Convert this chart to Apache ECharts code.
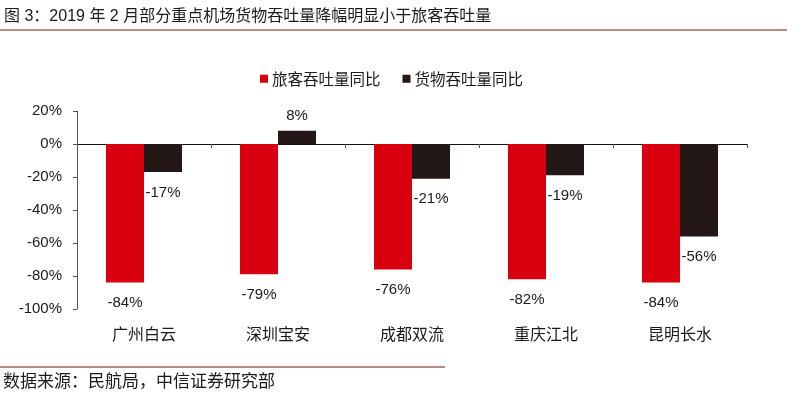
<!DOCTYPE html>
<html>
<head>
<meta charset="utf-8">
<script src="https://cdn.jsdelivr.net/npm/echarts@6/dist/echarts.min.js"></script>
<style>html,body{margin:0;padding:0;background:#fff;}#c{width:804px;height:394px;}</style>
</head>
<body>
<div id="c"></div>
<script>
const categories = ['广州白云', '深圳宝安', '成都双流', '重庆江北', '昆明长水'];
const passengerYoY = [-84, -79, -76, -82, -84];
const cargoYoY = [-17, 8, -21, -19, -56];
const seriesNames = ['旅客吞吐量同比', '货物吞吐量同比'];
const titleText = '图 3：2019 年 2 月部分重点机场货物吞吐量降幅明显小于旅客吞吐量';
const sourceText = '数据来源：民航局，中信证券研究部';

const FONT = '"Liberation Sans", Arial, "Noto Sans CJK SC", sans-serif';
const CJK = '"Noto Sans CJK SC", "Liberation Sans", sans-serif';
const RED = '#d9000f';
const BLACK = '#231815';
const TXT = '#1a1a1a';

const chart = echarts.init(document.getElementById('c'), null, {renderer: 'canvas'});
const labelCfg = {
  show: true,
  position: 'outside',
  distance: 13,
  color: TXT,
  fontSize: 15,
  fontFamily: FONT,
  formatter: p => p.value + '%'
};
const withLabelDist = arr => arr.map(v => v >= 0 ? {value: v, label: {distance: 7}} : {value: v});
chart.setOption({
  animation: false,
  backgroundColor: '#fff',
  graphic: [
    {type: 'text', left: 4, top: 9, style: {text: titleText, fontSize: 16, fontFamily: FONT, fill: TXT}},
    {type: 'line', shape: {x1: 0, y1: 30, x2: 787, y2: 30}, style: {stroke: '#6e1810', lineWidth: 1.2}},
    {type: 'line', shape: {x1: 0, y1: 367, x2: 445, y2: 367}, style: {stroke: '#6e1810', lineWidth: 1.2}},
    {type: 'text', left: 3, top: 372, style: {text: sourceText, fontSize: 17, fontFamily: CJK, fill: TXT}}
  ],
  legend: {
    left: 255, top: 66,
    itemWidth: 8, itemHeight: 8, itemGap: 22,
    icon: 'rect',
    textStyle: {fontSize: 15.5, fontFamily: CJK, color: TXT, padding: [0, 0, 0, -1]},
    data: seriesNames
  },
  grid: {left: 77, right: 57, top: 111, bottom: 85, containLabel: false},
  xAxis: [
    {
      type: 'category', data: categories,
      axisLine: {onZero: true, lineStyle: {color: '#111', width: 1}},
      axisTick: {show: true, length: 4, lineStyle: {color: '#555'}},
      axisLabel: {show: false}
    },
    {
      type: 'category', data: categories, position: 'bottom',
      axisLine: {show: false}, axisTick: {show: false},
      axisLabel: {margin: 17, fontSize: 16, fontFamily: CJK, color: TXT}
    }
  ],
  yAxis: {
    type: 'value', min: -100, max: 20, interval: 20,
    axisLine: {show: true, lineStyle: {color: '#555'}},
    axisTick: {show: true, length: 4, lineStyle: {color: '#555'}},
    splitLine: {show: false},
    axisLabel: {margin: 15, fontSize: 15, fontFamily: FONT, color: TXT, formatter: '{value}%'}
  },
  series: [
    {name: seriesNames[0], type: 'bar', xAxisIndex: 0, data: withLabelDist(passengerYoY), barWidth: 38, barGap: '0%',
     itemStyle: {color: RED}, label: labelCfg},
    {name: seriesNames[1], type: 'bar', xAxisIndex: 0, data: withLabelDist(cargoYoY), barWidth: 38, barGap: '0%',
     itemStyle: {color: BLACK}, label: labelCfg}
  ]
});
</script>
</body>
</html>
